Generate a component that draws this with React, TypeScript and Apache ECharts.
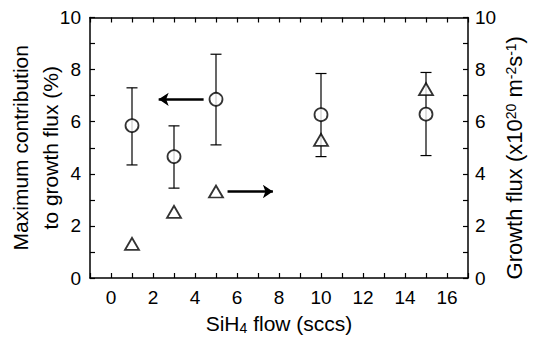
import React, { useEffect, useRef } from "react";
import * as echarts from "echarts";

// SiH4 flow (sccs)
const flowValues = [1, 3, 5, 10, 15];
// Maximum contribution to growth flux (%)
const contribution = [5.85, 4.66, 6.86, 6.27, 6.29];
const contributionLow = [4.34, 3.45, 5.11, 4.66, 4.7];
const contributionHigh = [7.3, 5.84, 8.59, 7.85, 7.89];
// Growth flux (x10^20 m^-2 s^-1)
const growthFlux = [1.31, 2.54, 3.32, 5.3, 7.25];
// Arrows (x-from, x-to, y)
const leftArrow = [[4.41, 6.86], [2.27, 6.86]];
const rightArrow = [[5.55, 3.32], [7.71, 3.32]];
// Axis ranges
const xRange = [-1, 17];
const yRange = [0, 10];

const FONT = "'Liberation Sans', Arial, Helvetica, sans-serif";

export default function App() {
  const ref = useRef<HTMLDivElement>(null);
  useEffect(() => {
    if (!ref.current) return;
    const chart = echarts.init(ref.current, null, { renderer: "svg" });
    const axisLine = { show: true, onZero: false, lineStyle: { color: "#000", width: 1.5 } };
    const tick = { show: true, inside: true, length: 5, lineStyle: { color: "#000", width: 1.2 } };
    const evenLabel = (v: number) => (Math.round(v) % 2 === 0 ? String(Math.round(v)) : "");
    const labelStyle = { color: "#000", fontSize: 19, fontFamily: FONT };
    chart.setOption({
      animation: false,
      backgroundColor: "#fff",
      grid: { left: 90, right: 66, top: 17.5, bottom: 61, containLabel: false, outerBoundsMode: "none" },
      xAxis: [
        {
          type: "value",
          min: xRange[0],
          max: xRange[1],
          interval: 1,
          position: "bottom",
          axisLine,
          axisTick: tick,
          splitLine: { show: false },
          axisLabel: { ...labelStyle, margin: 10, formatter: evenLabel },
          name: "{a|SiH}{sub|4}{a| flow (sccs)}",
          nameLocation: "middle",
          nameMoveOverlap: false,
          nameGap: 33,
          nameTextStyle: {
            rich: {
              a: { fontSize: 21, fontFamily: FONT, color: "#000", lineHeight: 24 },
              sub: { fontSize: 14, fontFamily: FONT, color: "#000", verticalAlign: "bottom", lineHeight: 24, padding: [8, 0, 0, 0] },
            },
          },
        },
        {
          type: "value",
          min: xRange[0],
          max: xRange[1],
          interval: 1,
          position: "top",
          axisLine,
          axisTick: tick,
          splitLine: { show: false },
          axisLabel: { show: false },
        },
      ],
      yAxis: [
        {
          type: "value",
          min: yRange[0],
          max: yRange[1],
          interval: 1,
          position: "left",
          axisLine,
          axisTick: tick,
          splitLine: { show: false },
          axisLabel: { ...labelStyle, margin: 9, formatter: evenLabel },
          name: "Maximum contribution\nto growth flux (%)",
          nameLocation: "middle",
          nameMoveOverlap: false,
          nameRotate: 90,
          nameGap: 25,
          nameTextStyle: { fontSize: 21, fontFamily: FONT, color: "#000", lineHeight: 30 },
        },
        {
          type: "value",
          min: yRange[0],
          max: yRange[1],
          interval: 1,
          position: "right",
          axisLine,
          axisTick: tick,
          splitLine: { show: false },
          axisLabel: { ...labelStyle, margin: 7, formatter: evenLabel },
          name: "{a|Growth flux (x10}{sup|20}{a| m}{sup|-2}{a|s}{sup|-1}{a|)}",
          nameLocation: "middle",
          nameMoveOverlap: false,
          nameRotate: 90,
          nameGap: 36,
          nameTextStyle: {
            padding: [0, 20, 0, 0],
            rich: {
              a: { fontSize: 22, fontFamily: FONT, color: "#000", lineHeight: 21, verticalAlign: "bottom", padding: [7, 0, 0, 0] },
              sup: { fontSize: 14, fontFamily: FONT, color: "#000", lineHeight: 14, verticalAlign: "top" },
            },
          },
        },
      ],
      series: [
        {
          type: "custom",
          xAxisIndex: 0,
          yAxisIndex: 0,
          z: 1,
          data: flowValues.map((x, i) => [x, contributionLow[i], contributionHigh[i]]),
          encode: { x: 0, y: [1, 2] },
          renderItem: (params: any, api: any) => {
            const x = api.value(0);
            const lo = api.coord([x, api.value(1)]);
            const hi = api.coord([x, api.value(2)]);
            const w = 5.5;
            const style = { stroke: "#000", lineWidth: 1.2 };
            return {
              type: "group",
              children: [
                { type: "line", shape: { x1: lo[0], y1: lo[1], x2: hi[0], y2: hi[1] }, style },
                { type: "line", shape: { x1: lo[0] - w, y1: lo[1], x2: lo[0] + w, y2: lo[1] }, style },
                { type: "line", shape: { x1: hi[0] - w, y1: hi[1], x2: hi[0] + w, y2: hi[1] }, style },
              ],
            };
          },
        },
        {
          type: "scatter",
          xAxisIndex: 0,
          yAxisIndex: 0,
          z: 3,
          symbol: "circle",
          symbolSize: 13,
          itemStyle: { color: "#fff", borderColor: "#000", borderWidth: 1.8 },
          data: flowValues.map((x, i) => [x, contribution[i]]),
        },
        {
          type: "scatter",
          xAxisIndex: 0,
          yAxisIndex: 1,
          z: 3,
          symbol: "triangle",
          symbolSize: [14, 12],
          itemStyle: { color: "#fff", borderColor: "#000", borderWidth: 1.8 },
          data: flowValues.map((x, i) => [x, growthFlux[i]]),
        },
        {
          type: "lines",
          coordinateSystem: "cartesian2d",
          xAxisIndex: 0,
          yAxisIndex: 0,
          z: 4,
          symbol: ["none", "arrow"],
          symbolSize: 10,
          lineStyle: { color: "#000", width: 2.5, opacity: 1 },
          data: [{ coords: leftArrow }, { coords: rightArrow }],
        },
      ],
    });
    return () => chart.dispose();
  }, []);
  return (
    <div
      ref={ref}
      style={{ position: "fixed", left: 0, top: 0, width: 534, height: 339, background: "#fff" }}
    />
  );
}
